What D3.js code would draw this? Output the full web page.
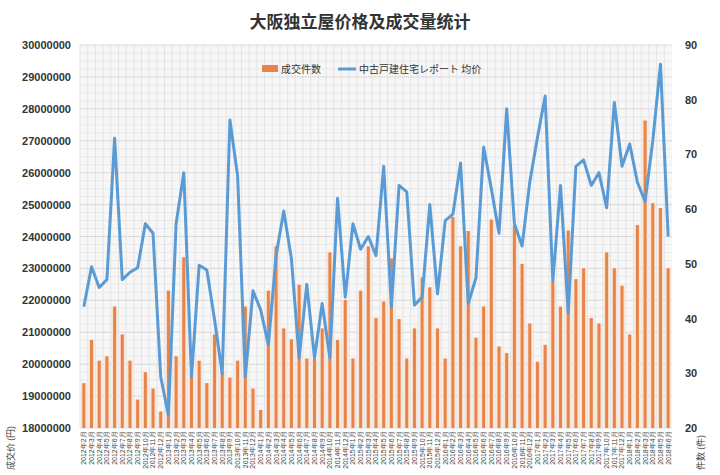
<!DOCTYPE html>
<html>
<head>
<meta charset="utf-8">
<script src="https://cdn.jsdelivr.net/npm/d3@7"></script>
<style>
  body { margin: 0; background: #fff; font-family: "Noto Sans CJK SC", "Noto Sans", sans-serif; }
</style>
</head>
<body>
<div id="container"></div>
<script>
// monthly data, 2012-02 .. 2018-06
const startYear = 2012, startMonth = 2;
const counts = [28.2, 36.1, 32.3, 33.1, 42.2, 37.1, 32.3, 25.2, 30.2, 27.2,
  23, 45.1, 33.1, 51.2, 30, 32.3, 28.2, 37.1, 30.2, 29.2,
  32.3, 42.2, 27.2, 23.3, 45.1, 53.2, 38.2, 36.2, 46.2, 32.7,
  32.7, 38.2, 52.1, 36.1, 43.4, 32.7, 45.1, 53.2, 40.1, 43.1,
  51, 39.9, 32.7, 38.2, 47.5, 45.7, 38.2, 32.7, 58.6, 53.2,
  56.0, 36.5, 42.2, 58.1, 34.9, 33.7, 57.0, 50, 39.1, 32.1,
  35.2, 46.8, 42.2, 56.1, 47.2, 49.2, 40.1, 39.1, 52.1, 49.2,
  46.0, 37.1, 57.1, 76.2, 61.1, 60.2, 49.2];
const prices = [21.8, 23.05, 22.4, 22.65, 27.08, 22.65, 22.88, 23.02, 24.4, 24.1,
  19.6, 18.4, 24.4, 26.0, 19.6, 23.1, 22.95, 21.4, 19.7, 27.65,
  25.9, 19.6, 22.3, 21.7, 20.6, 23.4, 24.8, 23.3, 20.2, 22.5,
  20.2, 21.9, 20.2, 25.2, 22.1, 24.4, 23.6, 24.0, 23.4, 26.2,
  21.8, 25.6, 25.4, 21.85, 22.1, 25.0, 22.2, 24.5, 24.7, 26.3,
  21.9, 22.7, 26.8, 25.5, 24.1, 28.0, 24.4, 23.7, 25.7, 27.1,
  28.4, 22.6, 25.6, 21.6, 26.2, 26.4, 25.6, 26.0, 24.9, 28.2,
  26.2, 26.9, 25.7, 25.1, 27.0, 29.4, 24.0].map(v => v * 1e6);
const months = counts.map((d, i) => {
  const m = startMonth - 1 + i;
  return `${startYear + Math.floor(m / 12)}年${m % 12 + 1}月`;
});
const leftTicks = d3.range(18000000, 30000001, 1000000);
const rightTicks = d3.range(20, 91, 10);

const w = 720, h = 475;
const m = { top: 45, right: 48, bottom: 47, left: 80 };

const svg = d3.select("#container").append("svg").attr("width", w).attr("height", h);

const x = d3.scaleBand().domain(months).range([m.left, w - m.right]).padding(0);
const yL = d3.scaleLinear().domain([18000000, 30000000]).range([h - m.bottom, m.top]);
const yR = d3.scaleLinear().domain([20, 90]).range([h - m.bottom, m.top]);

// plot background + grid
svg.append("rect").attr("x", m.left).attr("y", m.top)
  .attr("width", w - m.left - m.right).attr("height", h - m.top - m.bottom).attr("fill", "#f7f7f7");
svg.append("g").selectAll("line").data(d3.range(18000000, 30000001, 250000)).join("line")
  .attr("x1", m.left).attr("x2", w - m.right)
  .attr("y1", d => yL(d)).attr("y2", d => yL(d))
  .attr("stroke", d => d % 1000000 === 0 ? "#d0d0d0" : "#e6e6e6").attr("stroke-width", 0.8);
svg.append("g").selectAll("line").data(months).join("line")
  .attr("x1", d => x(d)).attr("x2", d => x(d))
  .attr("y1", m.top).attr("y2", h - m.bottom)
  .attr("stroke", "#e0e0e0").attr("stroke-width", 0.8);

// bars
svg.append("g").selectAll("rect").data(counts).join("rect")
  .attr("x", (d, i) => x(months[i]) + 1)
  .attr("width", x.bandwidth() - 2)
  .attr("y", d => yR(d)).attr("height", d => yR(20) - yR(d))
  .attr("fill", "#fbe3d3");
svg.append("g").selectAll("rect").data(counts).join("rect")
  .attr("x", (d, i) => x(months[i]) + x.bandwidth() / 2 - 1.5)
  .attr("width", 3)
  .attr("y", d => yR(d)).attr("height", d => yR(20) - yR(d))
  .attr("fill", "#e8844a");

// line
svg.append("path").datum(prices)
  .attr("d", d3.line().x((d, i) => x(months[i]) + x.bandwidth() / 2).y(d => yL(d)))
  .attr("fill", "none").attr("stroke", "#5b9bd5").attr("stroke-width", 3).attr("stroke-linejoin", "round");

// axes
const axL = svg.append("g").attr("transform", `translate(${m.left - 6},0)`)
  .call(d3.axisLeft(yL).tickValues(leftTicks).tickFormat(d3.format("d")).tickSize(0));
const axR = svg.append("g").attr("transform", `translate(${w - m.right + 10},0)`)
  .call(d3.axisRight(yR).tickValues(rightTicks).tickSize(0));
[axL, axR].forEach(a => {
  a.select(".domain").remove();
  a.selectAll("text").attr("font-size", 11).attr("font-weight", "bold").attr("fill", "#333")
    .attr("font-family", "Liberation Sans, Arial, sans-serif");
});

const axB = svg.append("g").attr("transform", `translate(0,${h - m.bottom})`)
  .call(d3.axisBottom(x).tickSize(0));
axB.select(".domain").remove();
axB.selectAll("text").attr("font-size", 7).attr("fill", "#444")
  .attr("transform", "rotate(-90)").attr("text-anchor", "end")
  .attr("dx", "-0.2em").attr("dy", "-0.55em").attr("x", -2).attr("y", 0);
axB.selectAll(".tick text").attr("transform", "rotate(90)");
axB.selectAll(".tick text").attr("transform", "rotate(-90)")
  .attr("x", -2).attr("y", 0).attr("dy", "0.35em").attr("text-anchor", "end");

// axis titles
svg.append("text").attr("transform", `translate(14,${h - 5}) rotate(-90)`)
  .attr("font-size", 9).attr("fill", "#444").text("成交价 (円)");
svg.append("text").attr("transform", `translate(${w - 16},${h - 5}) rotate(-90)`)
  .attr("font-size", 9).attr("fill", "#444").text("件数 (件)");

// title
svg.append("text").attr("x", w / 2).attr("y", 28).attr("text-anchor", "middle")
  .attr("font-size", 17).attr("font-weight", "bold").attr("fill", "#333").text("大阪独立屋价格及成交量统计");

// legend
const lg = svg.append("g").attr("transform", "translate(262,69)");
lg.append("rect").attr("x", 0).attr("y", -4).attr("width", 16).attr("height", 7).attr("fill", "#e8844a");
lg.append("text").attr("x", 19).attr("y", 4).attr("font-size", 10).attr("fill", "#333").text("成交件数");
lg.append("line").attr("x1", 76).attr("x2", 94).attr("y1", 0).attr("y2", 0)
  .attr("stroke", "#5b9bd5").attr("stroke-width", 3);
lg.append("text").attr("x", 97).attr("y", 4).attr("font-size", 10).attr("fill", "#333").text("中古戸建住宅レポート 均价");
</script>
</body>
</html>
